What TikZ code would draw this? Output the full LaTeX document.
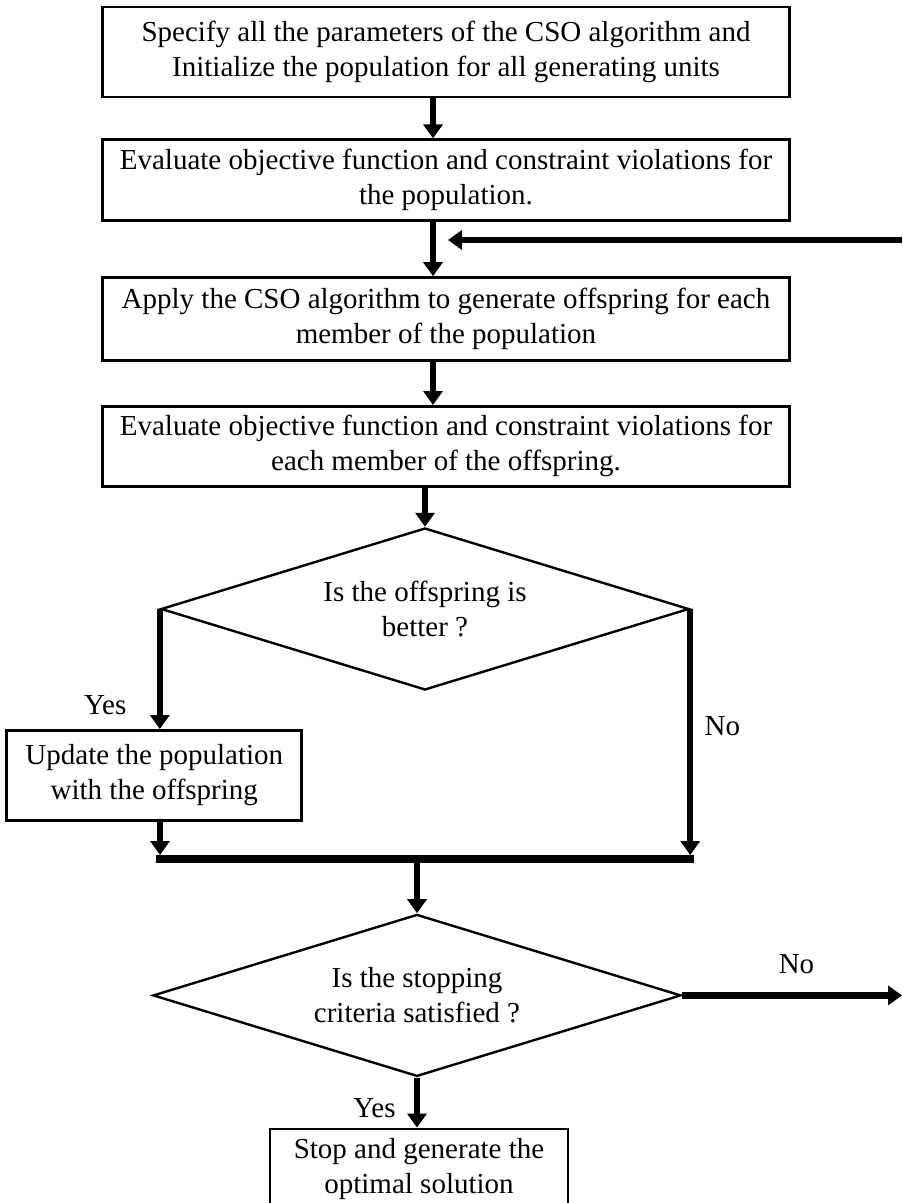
\documentclass[tikz,border=0pt]{standalone}
\usepackage{fontspec}
\setmainfont{Liberation Serif}
\usepackage{tikz}
\usetikzlibrary{shapes.geometric,arrows.meta,positioning,calc}
\newcommand{\flowfont}{\fontsize{14.5}{17.5}\selectfont}
\tikzset{
  procbox/.style={rectangle,draw=black,line width=1.4pt,minimum width=343.5pt,
    align=center,font=\flowfont,inner sep=2pt},
  decision/.style={diamond,draw=black,line width=1.2pt,minimum width=264pt,
    minimum height=81pt,aspect=3.2,inner sep=0pt,align=center,font=\flowfont},
  flowarrow/.style={line width=2.8pt,-{Triangle[width=9.5pt,length=7pt]}},
  fatarrow/.style={line width=3.4pt,-{Triangle[width=9.5pt,length=7pt]}},
  mergeline/.style={line width=4pt,line cap=rect},
  flowlabel/.style={font=\flowfont},
}
\begin{document}
\begin{tikzpicture}[x=0.5pt,y=-0.5pt]
\useasboundingbox (0,0) rectangle (902,1203);

%% ── process boxes ────────────────────────────────────────────────────────
\node[procbox,minimum height=45pt] (b1) at (446,52) {%
  Specify all the parameters of the CSO algorithm and\\
  Initialize the population for all generating units};
\node[procbox,minimum height=40.5pt,below=20pt of b1] (b2) {%
  Evaluate objective function and constraint violations for\\
  the population.};
\node[procbox,minimum height=41.5pt,below=27pt of b2] (b3) {%
  Apply the CSO algorithm to generate offspring for each\\
  member of the population};
\node[procbox,minimum height=40pt,below=21.5pt of b3] (b4) {%
  Evaluate objective function and constraint violations for\\
  each member of the offspring.};

%% ── first decision ───────────────────────────────────────────────────────
\node[decision,below=19.5pt of b4,xshift=-10.5pt] (d1) {%
  Is the offspring is\\better ?};
\node[procbox,minimum width=147.5pt,minimum height=45pt,
      below=60pt of d1.west,xshift=-2.75pt] (b5) {%
  Update the population\\with the offspring};

%% ── second decision ──────────────────────────────────────────────────────
\node[decision,below=111pt of d1,xshift=-4pt] (d2) {%
  Is the stopping\\criteria satisfied ?};
\node[procbox,minimum width=149pt,minimum height=40pt,
      below=25pt of d2,xshift=1pt] (b6) {%
  Stop and generate the\\optimal solution};

%% ── loose ends ───────────────────────────────────────────────────────────
\coordinate (loopin) at (902,240);
\coordinate (loopend) at (448,240);
\coordinate (mergel) at (160,859);
\coordinate (merger) at (d1.east |- mergel);

%% ── connectors ───────────────────────────────────────────────────────────
\draw[flowarrow] ([xshift=-6.5pt]b1.south) -- ([xshift=-6.5pt]b1.south |- b2.north);
\draw[flowarrow] ([xshift=-6.5pt]b2.south) -- ([xshift=-6.5pt]b2.south |- b3.north);
\draw[fatarrow] (loopin) -- (loopend);
\draw[flowarrow] ([xshift=-6.5pt]b3.south) -- ([xshift=-6.5pt]b3.south |- b4.north);
\draw[flowarrow] (d1.north |- b4.south) -- (d1.north);
% yes / no branches
\draw[flowarrow] (d1.west) -- node[flowlabel,pos=0.8,left=12pt]{Yes}
                 (d1.west |- b5.north);
\draw[flowarrow] (mergel |- b5.south) -- ([yshift=2pt]mergel);
\draw[flowarrow] (d1.east) -- node[flowlabel,pos=0.475,right=2.5pt]{No}
                 ([yshift=2pt]merger);
\draw[mergeline] (mergel) -- (merger);
\draw[flowarrow] (d2.north |- mergel) -- (d2.north);
% stopping test
\draw[fatarrow] (d2.east) -- node[flowlabel,pos=0.52,above=6pt]{No}
                (d2.east -| loopin);
\draw[flowarrow] (d2.south) -- node[flowlabel,pos=0.62,left=6pt]{Yes}
                 (d2.south |- b6.north);

\end{tikzpicture}
\end{document}
